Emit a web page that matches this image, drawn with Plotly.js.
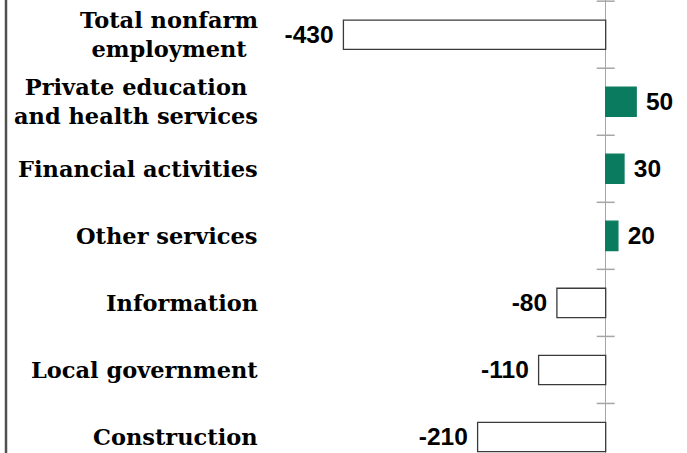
<!DOCTYPE html>
<html>
<head>
<meta charset="utf-8">
<script src="https://cdn.plot.ly/plotly-3.0.1.min.js"></script>
<style>
  html, body { margin: 0; padding: 0; background: #fff; }
  #chart { width: 687px; height: 453px; }
</style>
</head>
<body>
<div id="chart"></div>
<script>
// ---- Data ----
const categories = [
  'Total nonfarm<br>employment',
  'Private education<br>and health services',
  'Financial activities',
  'Other services',
  'Information',
  'Local government',
  'Construction'
];
const values = [-430, 50, 30, 20, -80, -110, -210];

// ---- Styles ----
const GREEN = '#0a7b5f';
const OUTLINE = '#3a3a3a';
const AXIS_GRAY = '#a6a6a6';

const barColors = values.map(v => v >= 0 ? GREEN : '#ffffff');
const lineColors = values.map(v => v >= 0 ? GREEN : OUTLINE);
const barText = values.map(v => v >= 0 ? '\u00a0' + v : v + '\u00a0');

const trace = {
  type: 'bar',
  orientation: 'h',
  x: values,
  y: categories,
  width: 0.437,
  marker: { color: barColors, line: { color: lineColors, width: 1.3 } },
  text: barText,
  textposition: 'outside',
  constraintext: 'none',
  cliponaxis: false,
  textfont: { family: 'Liberation Sans, Arial, sans-serif', size: 24.5, color: '#000', weight: 'bold' },
  hoverinfo: 'skip'
};

const shapes = [];
// crossing tick marks at category boundaries on the zero axis
for (let k = 0; k <= categories.length; k++) {
  shapes.push({
    type: 'line', xref: 'x', yref: 'y',
    xsizemode: 'pixel', xanchor: 0, x0: -9, x1: 9,
    y0: k - 0.5, y1: k - 0.5,
    line: { color: AXIS_GRAY, width: 1.5 }, layer: 'above'
  });
}
// left frame line
shapes.push({
  type: 'line', xref: 'paper', yref: 'paper',
  x0: 6 / 687, x1: 6 / 687, y0: 0, y1: 1,
  line: { color: '#505050', width: 2.5 }
});

const annotations = categories.map(c => ({
  xref: 'paper', yref: 'y',
  x: 260 / 687, y: c,
  xanchor: 'right', yanchor: 'middle', align: 'center',
  text: c, showarrow: false,
  font: { family: 'DejaVu Serif, serif', size: 22.5, color: '#000', weight: 'bold' }
}));

const layout = {
  width: 687, height: 453,
  margin: { l: 0, r: 0, t: 0, b: 0, pad: 0 },
  paper_bgcolor: '#fff', plot_bgcolor: '#fff',
  showlegend: false,
  hovermode: false,
  xaxis: {
    range: [-993, 133.3],
    showticklabels: false, showgrid: false, ticks: '',
    zeroline: true, zerolinecolor: AXIS_GRAY, zerolinewidth: 1.5,
    fixedrange: true
  },
  yaxis: {
    type: 'category',
    range: [6.239, -0.5175],
    showticklabels: false, showgrid: false, zeroline: false, ticks: '',
    fixedrange: true
  },
  shapes: shapes,
  annotations: annotations
};

Plotly.newPlot('chart', [trace], layout, { displayModeBar: false, staticPlot: true });
</script>
</body>
</html>
